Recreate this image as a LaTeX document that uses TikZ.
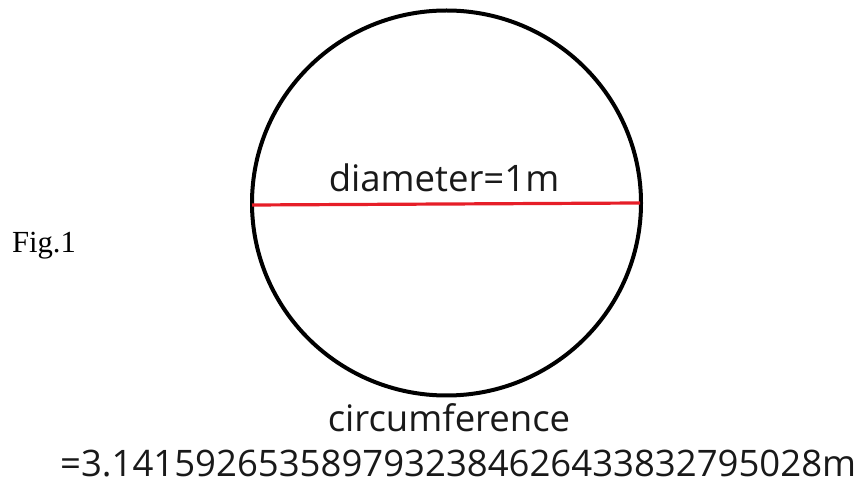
\documentclass[tikz,border=0pt]{standalone}
\usepackage{fontspec}
\setmainfont{Liberation Serif}
\newfontfamily\labelfont{Open Sans}
\usetikzlibrary{positioning}
\definecolor{diamred}{RGB}{230,30,40}
\definecolor{txtgray}{RGB}{25,25,25}

\begin{document}
\begin{tikzpicture}[
    x=0.75pt, y=-0.75pt,
    labeltext/.style={inner sep=0pt, anchor=base, text=txtgray, font=\labelfont\fontsize{27.4}{32}\selectfont},
    figtext/.style={inner sep=0pt, anchor=base, font=\fontsize{23}{27}\selectfont}
    ]
    \useasboundingbox (0,0) rectangle (857,484);

    \coordinate (centre) at (446.5,203);
    \coordinate (dleft) at (252,205);
    \coordinate (dright) at (640,203);

    \draw[line width=3pt] (centre) ellipse [x radius=194.5, y radius=192.5];
    \draw[diamred, line width=2.4pt] (dleft) -- (dright);

    \node[labeltext] (diam) at (444,192) {diameter=1m};
    \node[figtext] (fig) at (44,253) {Fig.1};
    \node[labeltext] (circ) at (449,432) {circumference};
    \node[labeltext] (val) at (458,477) {=3.1415926535897932384626433832795028m};

  \end{tikzpicture}
\end{document}
